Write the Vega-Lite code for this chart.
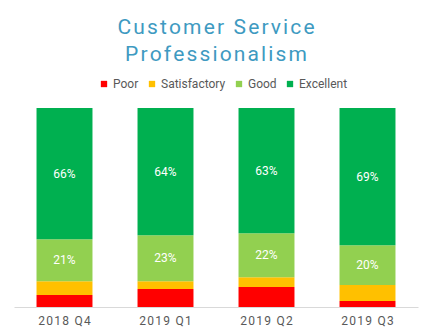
{
  "$schema": "https://vega.github.io/schema/vega-lite/v6.json",
  "width": 404,
  "height": 199,
  "autosize": {"type": "none"},
  "padding": {"left": 14, "top": 108, "right": 15, "bottom": 29},
  "background": "white",
  "config": {"view": {"stroke": null}, "font": "Roboto"},
  "title": {
    "text": {"expr": "[join(split('Customer Service', ''), '\u200a'), join(split('Professionalism', ''), '\u200a')]"},
    "fontSize": 21,
    "font": "Roboto",
    "fontWeight": "normal",
    "color": "#3E9AC1",
    "anchor": "middle",
    "lineHeight": 27,
    "offset": 13
  },
  "data": {
    "values": [
      {"quarter": "2018 Q4", "rating": "Poor", "share": 0.06},
      {"quarter": "2018 Q4", "rating": "Satisfactory", "share": 0.07},
      {"quarter": "2018 Q4", "rating": "Good", "share": 0.21},
      {"quarter": "2018 Q4", "rating": "Excellent", "share": 0.66},
      {"quarter": "2019 Q1", "rating": "Poor", "share": 0.09},
      {"quarter": "2019 Q1", "rating": "Satisfactory", "share": 0.04},
      {"quarter": "2019 Q1", "rating": "Good", "share": 0.23},
      {"quarter": "2019 Q1", "rating": "Excellent", "share": 0.64},
      {"quarter": "2019 Q2", "rating": "Poor", "share": 0.10},
      {"quarter": "2019 Q2", "rating": "Satisfactory", "share": 0.05},
      {"quarter": "2019 Q2", "rating": "Good", "share": 0.22},
      {"quarter": "2019 Q2", "rating": "Excellent", "share": 0.63},
      {"quarter": "2019 Q3", "rating": "Poor", "share": 0.03},
      {"quarter": "2019 Q3", "rating": "Satisfactory", "share": 0.08},
      {"quarter": "2019 Q3", "rating": "Good", "share": 0.20},
      {"quarter": "2019 Q3", "rating": "Excellent", "share": 0.69}
    ]
  },
  "transform": [
    {"calculate": "indexof(['Poor','Satisfactory','Good','Excellent'], datum.rating)", "as": "ord"},
    {"stack": "share", "groupby": ["quarter"], "sort": [{"field": "ord", "order": "ascending"}], "offset": "normalize", "as": ["s0", "s1"]},
    {"calculate": "(datum.s0 + datum.s1) / 2", "as": "mid"}
  ],
  "encoding": {
    "x": {
      "field": "quarter",
      "type": "nominal",
      "title": null,
      "scale": {"paddingInner": 0.446, "paddingOuter": 0.223},
      "axis": {
        "labelAngle": 0,
        "ticks": false,
        "domainColor": "#D9D9D9",
        "domainWidth": 1,
        "labelColor": "#595959",
        "labelFontSize": 12,
        "labelFont": "Roboto",
        "labelPadding": 8,
        "labelExpr": "join(split(datum.label, ''), '\u200a')"
      }
    }
  },
  "layer": [
    {
      "mark": {"type": "bar"},
      "encoding": {
        "y": {"field": "s0", "type": "quantitative", "axis": null, "scale": {"domain": [0, 1]}},
        "y2": {"field": "s1"},
        "color": {
          "field": "rating",
          "type": "nominal",
          "sort": ["Poor", "Satisfactory", "Good", "Excellent"],
          "scale": {
            "domain": ["Poor", "Satisfactory", "Good", "Excellent"],
            "range": ["#FF0000", "#FFC000", "#92D050", "#00B050"]
          },
          "legend": {
            "orient": "none",
            "legendX": 84,
            "legendY": -30,
            "title": null,
            "symbolType": "square",
            "symbolSize": 40,
            "symbolStrokeWidth": 0,
            "labelFontSize": 12,
            "labelColor": "#595959",
            "labelFont": "Roboto",
            "labelOffset": 3,
            "columnPadding": 7,
            "direction": "horizontal"
          }
        }
      }
    },
    {
      "transform": [{"filter": "datum.rating == 'Good' || datum.rating == 'Excellent'"}],
      "mark": {"type": "text", "color": "white", "fontSize": 12, "font": "Roboto"},
      "encoding": {
        "y": {"field": "mid", "type": "quantitative", "scale": {"domain": [0, 1]}},
        "text": {"field": "share", "type": "quantitative", "format": ".0%"}
      }
    }
  ]
}
